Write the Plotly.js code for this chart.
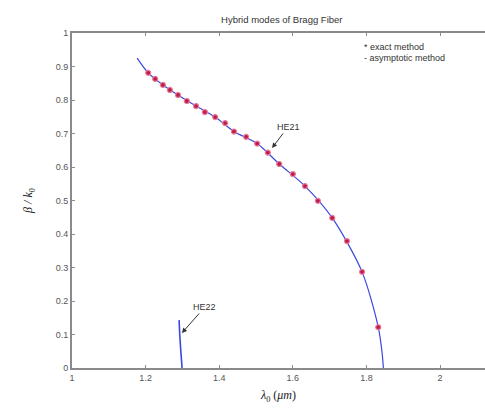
<!DOCTYPE html>
<html>
<head>
<meta charset="utf-8">
<script src="https://cdn.plot.ly/plotly-3.0.1.min.js"></script>
<style>html,body{margin:0;padding:0;background:#fff;}#chart{width:485px;height:408px;}</style>
</head>
<body>
<div id="chart"></div>
<script>
// Exact method (red markers)
var exactX = [1.207,1.226,1.247,1.266,1.288,1.312,1.337,1.361,1.389,1.416,1.440,1.473,1.503,1.532,1.563,1.600,1.633,1.668,1.707,1.747,1.788,1.832];
var exactY = [0.881,0.863,0.845,0.830,0.815,0.797,0.782,0.764,0.749,0.731,0.706,0.690,0.670,0.643,0.609,0.579,0.543,0.499,0.448,0.379,0.287,0.122];
// Asymptotic method, HE21 (blue line)
var asymX = [1.177,1.207,1.247,1.288,1.337,1.389,1.440,1.503,1.563,1.633,1.707,1.788,1.832,1.842,1.846];
var asymY = [0.925,0.881,0.845,0.815,0.782,0.749,0.706,0.670,0.609,0.543,0.448,0.287,0.122,0.050,0.000];
// Asymptotic method, HE22 (blue line)
var he22X = [1.291,1.293,1.296,1.299];
var he22Y = [0.143,0.095,0.045,0.000];
var xTicks = [1,1.2,1.4,1.6,1.8,2];
var xTickText = ['1','1.2','1.4','1.6','1.8','2'];
var yTicks = [0,0.1,0.2,0.3,0.4,0.5,0.6,0.7,0.8,0.9,1];
var yTickText = ['0','0.1','0.2','0.3','0.4','0.5','0.6','0.7','0.8','0.9','1'];

var blue = '#3a48e0';
var traces = [
  {x: asymX, y: asymY, mode: 'lines', line: {color: blue, width: 1.2, shape: 'spline', smoothing: 0.8}, hoverinfo: 'none'},
  {x: he22X, y: he22Y, mode: 'lines', line: {color: blue, width: 1.6, shape: 'spline'}, hoverinfo: 'none'},
  {x: exactX, y: exactY, mode: 'markers', marker: {symbol: 'circle', size: 5, color: '#b81e4a', line: {color: '#ea7a9a', width: 1.2}}, hoverinfo: 'none'}
];

var font = 'Liberation Sans, Arial, sans-serif';
var layout = {
  width: 485, height: 408,
  margin: {l: 72, r: 0, t: 33, b: 40, pad: 0},
  paper_bgcolor: '#ffffff', plot_bgcolor: '#ffffff',
  showlegend: false,
  font: {family: font, size: 9, color: '#444'},
  title: {text: 'Hybrid modes of Bragg Fiber', font: {family: font, size: 9.5, color: '#333'},
          xref: 'paper', x: 0.508, xanchor: 'center', yref: 'container', y: 0.953, yanchor: 'middle'},
  xaxis: {range: [1, 2.122], tickvals: xTicks, ticktext: xTickText, showgrid: false, zeroline: false,
          showline: true, linecolor: '#8a8a8a', linewidth: 2, mirror: 'ticks',
          ticks: 'inside', ticklen: 3, tickcolor: '#8a8a8a', tickfont: {family: font, size: 9, color: '#555'},
          title: {text: '<i>λ</i><sub>0</sub> (<i>μm</i>)', font: {family: 'Liberation Serif, Times New Roman, serif', size: 12, color: '#222'}, standoff: 9}},
  yaxis: {range: [0, 1], tickvals: yTicks, ticktext: yTickText, showgrid: false, zeroline: false,
          showline: true, linecolor: '#8a8a8a', linewidth: 2,
          ticks: 'inside', ticklen: 3, tickcolor: '#8a8a8a', tickfont: {family: font, size: 9, color: '#555'},
          title: {text: '<i>β / k</i><sub>0</sub>', font: {family: 'Liberation Serif, Times New Roman, serif', size: 12, color: '#222'}, standoff: 20}},
  annotations: [
    {x: 1.5435, y: 0.657, xref: 'x', yref: 'y', text: 'HE21', showarrow: true, ax: 16, ay: -21,
     arrowhead: 2, arrowsize: 1, arrowwidth: 1, arrowcolor: '#333', standoff: 0, font: {family: font, size: 9, color: '#333'}},
    {x: 1.2986, y: 0.1045, xref: 'x', yref: 'y', text: 'HE22', showarrow: true, ax: 23, ay: -26,
     arrowhead: 2, arrowsize: 1, arrowwidth: 1, arrowcolor: '#333', standoff: 0, font: {family: font, size: 9, color: '#333'}},
    {x: 0.702, y: 0.958, xref: 'paper', yref: 'paper', xanchor: 'left', yanchor: 'middle', text: '* exact method', showarrow: false,
     font: {family: font, size: 9, color: '#333'}},
    {x: 0.702, y: 0.925, xref: 'paper', yref: 'paper', xanchor: 'left', yanchor: 'middle', text: '- asymptotic method', showarrow: false,
     font: {family: font, size: 9, color: '#333'}}
  ]
};
Plotly.newPlot('chart', traces, layout, {staticPlot: true, displayModeBar: false});
</script>
</body>
</html>
